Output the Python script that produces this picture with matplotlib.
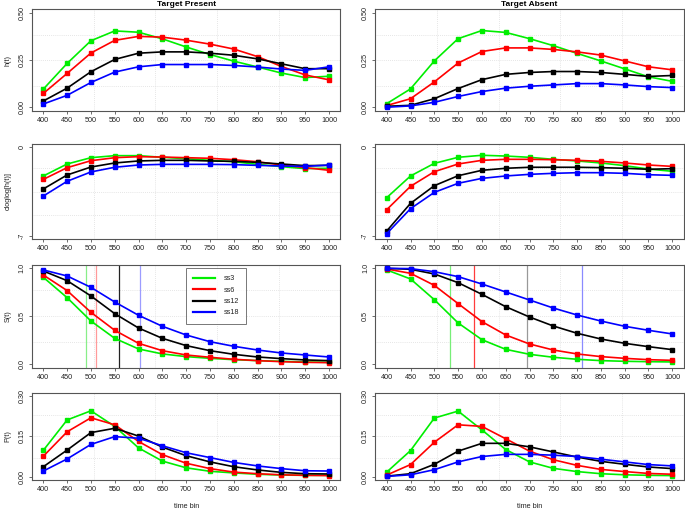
import numpy as np
import matplotlib
matplotlib.use('Agg')
import matplotlib.pyplot as plt
from matplotlib.lines import Line2D

plt.rcParams['font.family'] = ['Liberation Sans', 'DejaVu Sans']

bins = [400, 450, 500, 550, 600, 650, 700, 750, 800, 850, 900, 950, 1000]
groups = ['ss3', 'ss6', 'ss12', 'ss18']
colors = ['#00ee00', '#ff0000', '#000000', '#0000ff']

# hazard h(t)
h_present = {
    'ss3': [0.096, 0.232, 0.352, 0.404, 0.397, 0.362, 0.319, 0.279, 0.244, 0.213, 0.181, 0.157, 0.164],
    'ss6': [0.073, 0.179, 0.287, 0.354, 0.375, 0.371, 0.355, 0.334, 0.308, 0.268, 0.216, 0.171, 0.145],
    'ss12': [0.033, 0.101, 0.188, 0.253, 0.286, 0.293, 0.293, 0.286, 0.275, 0.256, 0.230, 0.204, 0.204],
    'ss18': [0.017, 0.063, 0.131, 0.186, 0.214, 0.226, 0.226, 0.226, 0.221, 0.213, 0.202, 0.195, 0.214],
}
h_absent = {
    'ss3': [0.019, 0.097, 0.245, 0.363, 0.406, 0.396, 0.363, 0.326, 0.285, 0.245, 0.203, 0.161, 0.137],
    'ss6': [0.009, 0.045, 0.134, 0.234, 0.295, 0.314, 0.314, 0.306, 0.293, 0.276, 0.245, 0.214, 0.198],
    'ss12': [0.005, 0.010, 0.045, 0.099, 0.146, 0.174, 0.184, 0.189, 0.189, 0.184, 0.174, 0.163, 0.168],
    'ss18': [0.000, 0.007, 0.026, 0.057, 0.083, 0.101, 0.111, 0.118, 0.125, 0.125, 0.118, 0.109, 0.104],
}

# cloglog[h(t)]
cl_present = {
    'ss3': [-2.27, -1.32, -0.82, -0.66, -0.66, -0.79, -0.90, -1.03, -1.14, -1.35, -1.53, -1.69, -1.66],
    'ss6': [-2.54, -1.61, -1.06, -0.82, -0.74, -0.77, -0.82, -0.87, -0.98, -1.14, -1.40, -1.61, -1.82],
    'ss12': [-3.30, -2.19, -1.56, -1.24, -1.08, -1.03, -1.03, -1.08, -1.11, -1.19, -1.32, -1.45, -1.43],
    'ss18': [-3.86, -2.69, -1.95, -1.58, -1.40, -1.35, -1.35, -1.35, -1.37, -1.43, -1.48, -1.51, -1.40],
}
cl_absent = {
    'ss3': [-3.99, -2.27, -1.27, -0.79, -0.63, -0.69, -0.79, -0.95, -1.08, -1.24, -1.45, -1.72, -1.90],
    'ss6': [-4.94, -3.09, -1.93, -1.32, -1.03, -0.95, -0.95, -0.98, -1.03, -1.11, -1.24, -1.40, -1.51],
    'ss12': [-6.63, -4.44, -3.04, -2.25, -1.82, -1.66, -1.58, -1.58, -1.58, -1.61, -1.66, -1.74, -1.69],
    'ss18': [-6.84, -4.86, -3.57, -2.85, -2.46, -2.27, -2.14, -2.06, -2.01, -2.01, -2.06, -2.17, -2.22],
}

# survivor S(t)
s_present = {
    'ss3': [0.906, 0.693, 0.449, 0.268, 0.157, 0.105, 0.077, 0.059, 0.045, 0.035, 0.028, 0.021, 0.017],
    'ss6': [0.930, 0.767, 0.540, 0.352, 0.216, 0.139, 0.094, 0.070, 0.049, 0.035, 0.024, 0.017, 0.014],
    'ss12': [0.972, 0.871, 0.711, 0.526, 0.376, 0.268, 0.192, 0.139, 0.101, 0.073, 0.056, 0.042, 0.035],
    'ss18': [0.983, 0.920, 0.801, 0.648, 0.509, 0.394, 0.303, 0.233, 0.185, 0.146, 0.115, 0.094, 0.073],
}
s_absent = {
    'ss3': [0.983, 0.889, 0.672, 0.429, 0.254, 0.153, 0.101, 0.070, 0.049, 0.035, 0.028, 0.024, 0.021],
    'ss6': [0.993, 0.948, 0.822, 0.631, 0.443, 0.303, 0.209, 0.146, 0.105, 0.077, 0.059, 0.045, 0.038],
    'ss12': [1.000, 0.990, 0.941, 0.850, 0.728, 0.599, 0.491, 0.397, 0.321, 0.261, 0.216, 0.181, 0.150],
    'ss18': [1.000, 0.997, 0.965, 0.913, 0.836, 0.753, 0.669, 0.585, 0.512, 0.449, 0.394, 0.352, 0.314],
}

# median times (vertical lines in S(t) panels)
med_present = [490, 511, 558, 603]
med_absent = [534, 584, 695, 810]

# probability mass P(t)
p_present = {
    'ss3': [0.098, 0.211, 0.245, 0.187, 0.107, 0.058, 0.033, 0.020, 0.014, 0.009, 0.006, 0.005, 0.005],
    'ss6': [0.076, 0.167, 0.219, 0.193, 0.131, 0.082, 0.050, 0.030, 0.017, 0.011, 0.007, 0.005, 0.004],
    'ss12': [0.037, 0.099, 0.164, 0.180, 0.151, 0.110, 0.078, 0.055, 0.037, 0.025, 0.016, 0.011, 0.010],
    'ss18': [0.021, 0.066, 0.120, 0.149, 0.143, 0.115, 0.089, 0.071, 0.053, 0.040, 0.030, 0.022, 0.021],
}
p_absent = {
    'ss3': [0.017, 0.097, 0.218, 0.244, 0.174, 0.101, 0.055, 0.031, 0.019, 0.011, 0.007, 0.005, 0.004],
    'ss6': [0.006, 0.045, 0.128, 0.193, 0.187, 0.141, 0.095, 0.063, 0.042, 0.027, 0.019, 0.012, 0.009],
    'ss12': [0.002, 0.011, 0.046, 0.095, 0.124, 0.124, 0.111, 0.092, 0.073, 0.057, 0.046, 0.036, 0.030],
    'ss18': [0.001, 0.007, 0.026, 0.055, 0.075, 0.083, 0.083, 0.080, 0.075, 0.065, 0.055, 0.045, 0.040],
}

W, H = 685, 512
fig = plt.figure(figsize=(W / 100, H / 100), dpi=100)

col_x = [(31.9, 340.4), (375.3, 683.7)]
row_y = [(9.0, 111.0), (143.8, 239.2), (264.5, 367.8), (392.8, 479.9)]

rows = [
    (h_present, h_absent, 'h(t)', (0, 0.5), [0, 0.25, 0.5], ['0.00', '0.25', '0.50']),
    (cl_present, cl_absent, 'cloglog[h(t)]', (-7, 0), [-7, 0], ['-7', '0']),
    (s_present, s_absent, 'S(t)', (0, 1), [0, 0.5, 1.0], ['0.0', '0.5', '1.0']),
    (p_present, p_absent, 'P(t)', (0, 0.3), [0, 0.15, 0.3], ['0.00', '0.15', '0.30']),
]
titles = ['Target Present', 'Target Absent']
vcols = [['#88ee88', '#ff9a9a', '#222222', '#9c9cff'],
         ['#77ee77', '#ff3c3c', '#999999', '#8a8aff']]
edge = '#555555'
fs = 5.2

for r, (dp, da, ylab, ylim, yt, ytl) in enumerate(rows):
    for c, data in enumerate([dp, da]):
        x0, x1 = col_x[c]
        y0, y1 = row_y[r]
        ax = fig.add_axes([x0 / W, 1 - y1 / H, (x1 - x0) / W, (y1 - y0) / H])
        xr = 1000 - 400
        yr = ylim[1] - ylim[0]
        ax.set_xlim(400 - 0.04 * xr, 1000 + 0.04 * xr)
        ax.set_ylim(ylim[0] - 0.04 * yr, ylim[1] + 0.04 * yr)
        # R style grid(5, 4): equal divisions of the plot region
        lo, hi = ax.get_xlim()
        for gx in np.linspace(lo, hi, 6)[1:-1]:
            ax.axvline(gx, color='#dddddd', lw=0.6, ls=(0, (1, 1.5)), zorder=0)
        lo, hi = ax.get_ylim()
        for gy in np.linspace(lo, hi, 5)[1:-1]:
            ax.axhline(gy, color='#dddddd', lw=0.6, ls=(0, (1, 1.5)), zorder=0)

        if r == 2:
            meds = med_present if c == 0 else med_absent
            for m, vc in zip(meds, vcols[c]):
                ax.axvline(m, color=vc, lw=0.9, zorder=1)

        for g, col in zip(groups, colors):
            ax.plot(bins, data[g], color=col, lw=1.2, marker='s', ms=2.7,
                    mec=col, mfc=col, zorder=3)

        ax.set_xticks(bins)
        ax.set_xticklabels([str(b) for b in bins])
        ax.set_yticks(yt)
        ax.set_yticklabels(ytl, rotation=90, va='center')
        ax.tick_params(labelsize=fs, length=2.5, width=0.6, color=edge,
                       labelcolor='#222222', pad=2)
        for s in ax.spines.values():
            s.set_color(edge)
            s.set_linewidth(0.8)

        if c == 0:
            ax.set_ylabel(ylab, fontsize=fs, labelpad=5, color='#222222')
        if r == 0:
            fig.text((x0 + x1) / 2 / W, 1 - 0.5 / H, titles[c], fontsize=6,
                     fontweight='bold', ha='center', va='top')
        if r == 3:
            ax.set_xlabel('time bin', fontsize=fs, labelpad=7, color='#222222')

        if r == 2 and c == 0:
            handles = [Line2D([0], [0], color=col, lw=1.6) for col in colors]
            leg = ax.legend(handles, groups, loc='upper left',
                            bbox_to_anchor=(0.5, 0.966), borderaxespad=0,
                            fontsize=fs, frameon=True, fancybox=False,
                            handlelength=3.0, handletextpad=1.2,
                            labelspacing=0.6, borderpad=1.0)
            leg.get_frame().set_edgecolor(edge)
            leg.get_frame().set_linewidth(0.7)
            for t in leg.get_texts():
                t.set_color('#222222')

fig.savefig('out.png', dpi=100)
